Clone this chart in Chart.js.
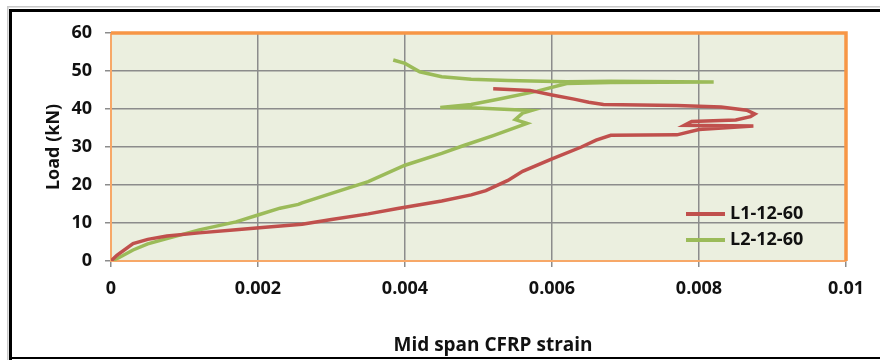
<!DOCTYPE html>
<html lang="en">
<head>
  <meta charset="UTF-8">
  <title>Load vs Mid span CFRP strain</title>
  <script src="https://cdn.jsdelivr.net/npm/chart.js"></script>
  <style>
    body { margin: 0; background: #fff; }
    #chart-container { position: relative; width: 880px; height: 360px; }
  </style>
</head>
<body>
  <div id="chart-container">
    <canvas id="strainChart" width="880" height="360"></canvas>
  </div>

  <script>
    // Values: [strain, load kN]
    const l1Points = [
      [0, 0], [0.00008, 1.5], [0.0003, 4.6], [0.0005, 5.7], [0.00076, 6.6],
      [0.0012, 7.4], [0.0017, 8.2], [0.0021, 8.9], [0.0026, 9.7], [0.003, 10.9],
      [0.0035, 12.4], [0.0039, 13.8], [0.0045, 15.8], [0.0049, 17.4], [0.0051, 18.5],
      [0.0054, 21.2], [0.0056, 23.6], [0.006, 26.9], [0.0064, 30.0], [0.0066, 31.8],
      [0.0068, 33.1], [0.0077, 33.2], [0.008, 34.6], [0.00874, 35.5], [0.0078, 35.7],
      [0.0079, 36.7], [0.0085, 37.1], [0.0087, 38.0], [0.00876, 38.7], [0.00865, 39.7],
      [0.0083, 40.5], [0.0077, 40.9], [0.0067, 41.2], [0.0065, 41.8], [0.0063, 42.6],
      [0.006, 43.7], [0.0057, 44.9], [0.0052, 45.3]
    ];
    const l2Points = [
      [0, 0], [0.0001, 0.8], [0.0003, 2.9], [0.0005, 4.5], [0.00076, 5.9],
      [0.0012, 8.2], [0.0017, 10.3], [0.002, 12.1], [0.0023, 13.9], [0.00255, 14.9],
      [0.0026, 15.3], [0.003, 17.8], [0.0035, 20.9], [0.004, 25.2], [0.0045, 28.3],
      [0.0048, 30.4], [0.0052, 33.0], [0.00566, 36.2], [0.0055, 37.2], [0.0056, 38.9],
      [0.00572, 39.6], [0.0049, 40.3], [0.00448, 40.4], [0.0049, 41.2], [0.0053, 42.7],
      [0.0058, 44.7], [0.0062, 46.7], [0.0068, 47.0], [0.0082, 47.1], [0.0068, 47.3],
      [0.0062, 47.2], [0.0054, 47.5], [0.0049, 47.8], [0.0045, 48.5], [0.0042, 49.8],
      [0.004, 52.0], [0.00384, 52.9]
    ];
    const seriesNames = ['L1-12-60', 'L2-12-60'];
    const xTickLabels = ['0', '0.002', '0.004', '0.006', '0.008', '0.01'];
    const yTickLabels = ['0', '10', '20', '30', '40', '50', '60'];

    const FONT = "'Open Sans', Lato, sans-serif";
    const toXY = pts => pts.map(([x, y]) => ({ x, y }));

    // frame, plot background, orange plot border, legend and x title
    const decorPlugin = {
      id: 'decor',
      beforeDraw: (chart) => {
        const { ctx, chartArea: a } = chart;
        ctx.save();
        ctx.fillStyle = '#ffffff';
        ctx.fillRect(0, 0, chart.width, chart.height);
        ctx.fillStyle = '#c8c8c8';
        ctx.fillRect(7, 6, 873, 1.5);
        ctx.fillRect(7, 6, 1.5, 354);
        ctx.fillStyle = '#000';
        ctx.fillRect(9, 9, 871, 3);
        ctx.fillRect(9, 9, 3, 351);
        ctx.fillRect(9, 357, 871, 2);
        ctx.fillStyle = '#ebefdf';
        ctx.fillRect(a.left, a.top, a.right - a.left, a.bottom - a.top);
        ctx.restore();
      },
      beforeDatasetsDraw: (chart) => {
        const { ctx, chartArea: a } = chart;
        ctx.save();
        ctx.strokeStyle = '#f7a868';
        ctx.lineWidth = 2;
        ctx.beginPath();
        ctx.moveTo(a.left, a.top);
        ctx.lineTo(a.left, a.bottom);
        ctx.lineTo(a.right, a.bottom);
        ctx.stroke();
        ctx.strokeStyle = '#f79646';
        ctx.lineWidth = 3.5;
        ctx.beginPath();
        ctx.moveTo(a.left, a.top);
        ctx.lineTo(a.right, a.top);
        ctx.lineTo(a.right, a.bottom);
        ctx.stroke();
        ctx.restore();
      },
      afterDraw: (chart) => {
        const { ctx } = chart;
        ctx.save();
        ctx.font = `bold 18px ${FONT}`;
        ctx.textBaseline = 'middle';
        chart.data.datasets.forEach((ds, i) => {
          const y = 214 + i * 26;
          ctx.strokeStyle = ds.borderColor;
          ctx.lineWidth = 4;
          ctx.beginPath();
          ctx.moveTo(686, y);
          ctx.lineTo(725, y);
          ctx.stroke();
          ctx.fillStyle = '#111';
          ctx.textAlign = 'left';
          ctx.fillText(ds.label, 730, y);
        });
        ctx.font = `bold 19px ${FONT}`;
        ctx.textAlign = 'center';
        ctx.fillText('Mid span CFRP strain', 493, 346);
        ctx.restore();
      }
    };

    const ctx = document.getElementById('strainChart').getContext('2d');
    const chart = new Chart(ctx, {
      type: 'line',
      data: {
        datasets: [
          {
            label: seriesNames[0],
            data: toXY(l1Points),
            borderColor: '#c0504d',
            borderWidth: 3.5,
            pointRadius: 0,
            tension: 0
          },
          {
            label: seriesNames[1],
            data: toXY(l2Points),
            borderColor: '#9bbb59',
            borderWidth: 3.5,
            pointRadius: 0,
            tension: 0
          }
        ]
      },
      options: {
        responsive: false,
        animation: false,
        layout: { padding: { left: 0, top: 33, right: 34, bottom: 0 } },
        plugins: {
          legend: { display: false },
          tooltip: { enabled: false }
        },
        scales: {
          x: {
            type: 'linear',
            min: 0,
            max: 0.01,
            afterFit: s => { s.height = 99; },
            grid: { color: '#8c8c8c', lineWidth: 1.5, tickLength: 6, tickColor: '#8c8c8c' },
            border: { display: false },
            ticks: {
              stepSize: 0.002,
              padding: 11,
              color: '#111',
              font: { family: FONT, size: 18, weight: 'bold' },
              callback: (v, i) => xTickLabels[i]
            }
          },
          y: {
            min: 0,
            max: 60,
            afterFit: s => { s.width = 111; },
            grid: { color: '#8c8c8c', lineWidth: 1.5, tickLength: 6, tickColor: '#8c8c8c' },
            border: { display: false },
            title: {
              display: true,
              text: 'Load (kN)',
              color: '#111',
              padding: { top: 43, bottom: 0 },
              font: { family: FONT, size: 18, weight: 'bold' }
            },
            ticks: {
              stepSize: 10,
              padding: 13,
              color: '#111',
              font: { family: FONT, size: 18, weight: 'bold' },
              callback: (v, i) => yTickLabels[i]
            }
          }
        }
      },
      plugins: [decorPlugin]
    });
  </script>
</body>
</html>
